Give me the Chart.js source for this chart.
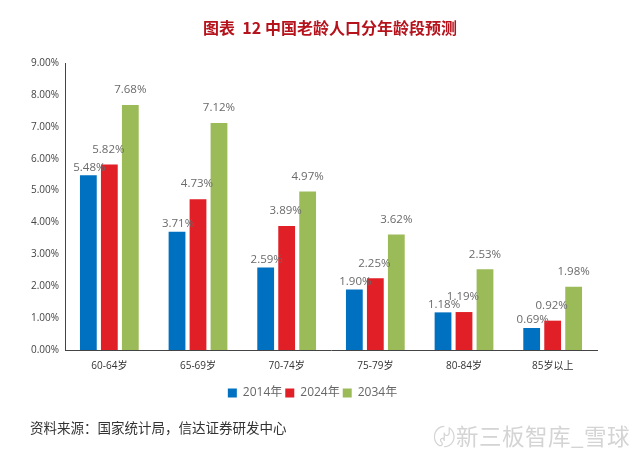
<!DOCTYPE html>
<html>
<head>
<meta charset="utf-8">
<title>中国老龄人口分年龄段预测</title>
<script src="https://cdn.jsdelivr.net/npm/chart.js@4"></script>
<style>
  html, body { margin: 0; padding: 0; background: #fff; }
  #wrap { position: relative; width: 640px; height: 453px; overflow: hidden; font-family: "Noto Sans CJK SC", sans-serif; }
  #sales { position: absolute; left: 0; top: 0; }
  #title { position: absolute; left: 0; width: 660px; top: 15px; text-align: center; font-size: 16px; font-weight: bold; color: #B5121B; white-space: pre; }
  #source { position: absolute; left: 30px; top: 417px; font-size: 13.5px; color: #333; }
  #mark { position: absolute; left: 433px; top: 419px; font-size: 22.5px; color: #d4d4d4; letter-spacing: 0.5px; white-space: nowrap; }
</style>
</head>
<body>
<div id="wrap">
  <canvas id="sales" width="640" height="453"></canvas>
  <div id="title">图表  12 中国老龄人口分年龄段预测</div>
  <div id="source">资料来源：国家统计局，信达证券研发中心</div>
  <div id="mark">〄新三板智库_雪球</div>
</div>
<script>
    const categories = ['60-64岁', '65-69岁', '70-74岁', '75-79岁', '80-84岁', '85岁以上'];
    const values2014 = [5.48, 3.71, 2.59, 1.90, 1.18, 0.69];
    const values2024 = [5.82, 4.73, 3.89, 2.25, 1.19, 0.92];
    const values2034 = [7.68, 7.12, 4.97, 3.62, 2.53, 1.98];
    const yTicks = [0, 1, 2, 3, 4, 5, 6, 7, 8, 9];

    const fontName = '"Open Sans", "Noto Sans CJK SC", sans-serif';

    // 값 라벨: 시리즈별로 막대 위 간격이 다름
    const barLabels = {
        id: 'barLabels',
        afterDatasetsDraw(chart) {
            const c = chart.ctx;
            c.save();
            c.font = '11.5px ' + fontName;
            c.fillStyle = '#6a6a6a';
            c.textAlign = 'center';
            c.textBaseline = 'middle';
            chart.data.datasets.forEach((ds, i) => {
                chart.getDatasetMeta(i).data.forEach((bar, j) => {
                    c.fillText(ds.data[j].toFixed(2) + '%', bar.x + ds.labelDx, bar.y - ds.labelGap);
                });
            });
            c.restore();
        }
    };

    new Chart(document.getElementById('sales').getContext('2d'), {
        type: 'bar',
        data: {
            labels: categories,
            datasets: [
                { label: '2014年', data: values2014, backgroundColor: '#0070C0', labelDx: 1, labelGap: 8 },
                { label: '2024年', data: values2024, backgroundColor: '#E01F26', labelDx: -1, labelGap: 15 },
                { label: '2034年', data: values2034, backgroundColor: '#9BBB59', labelDx: 0, labelGap: 15 }
            ]
        },
        options: {
            responsive: false,
            animation: false,
            devicePixelRatio: 1,
            layout: { padding: { left: 28, right: 43, top: 63, bottom: 44 } },
            datasets: { bar: { categoryPercentage: 0.71, barPercentage: 0.8 } },
            plugins: {
                legend: {
                    position: 'bottom',
                    labels: {
                        boxWidth: 9, boxHeight: 9, padding: 3, color: '#666',
                        font: { size: 12, family: fontName }
                    }
                },
                tooltip: { enabled: false }
            },
            scales: {
                y: {
                    min: 0,
                    max: 9,
                    afterBuildTicks(scale) { scale.ticks = yTicks.map(v => ({ value: v })); },
                    afterFit(scale) { scale.width = 37; },
                    grid: { display: false, drawTicks: false },
                    border: { color: '#444', width: 1 },
                    ticks: {
                        padding: 6, color: '#444',
                        font: { size: 10, family: fontName },
                        callback: v => v.toFixed(2) + '%'
                    }
                },
                x: {
                    afterFit(scale) { scale.height = 34; },
                    grid: { display: false, drawTicks: false },
                    border: { color: '#444', width: 1 },
                    ticks: {
                        padding: 10, color: '#333', maxRotation: 0, minRotation: 0,
                        font: { size: 10, family: fontName }
                    }
                }
            }
        },
        plugins: [barLabels]
    });
</script>
</body>
</html>
